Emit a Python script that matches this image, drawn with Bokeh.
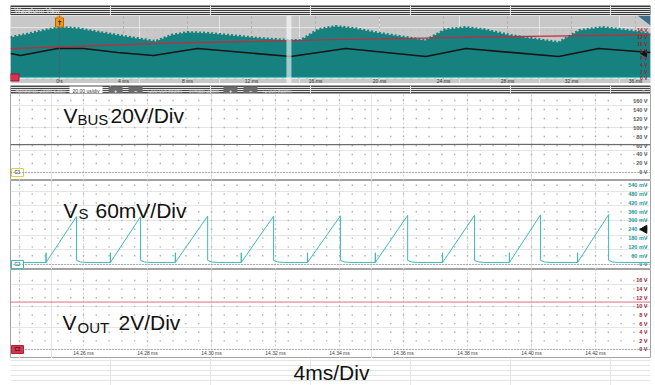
import numpy as np
from bokeh.plotting import figure
from bokeh.layouts import column
from bokeh.models import Range1d, Span, Grid, FixedTicker
from bokeh.core.properties import value
from bokeh.embed import file_html
from bokeh.resources import INLINE

FONT = "Liberation Sans"
W = 655

# ---------------- data ----------------
# Overview ("Waveform View"), time in ms, level in V of the overview scale
ov_ticks = [0, 4, 8, 12, 16, 20, 24, 28, 32, 36]
ov_tick_labels = ["0 s", "4 ms", "8 ms", "12 ms", "16 ms", "20 ms", "24 ms", "28 ms", "32 ms", "36 ms"]
ov_levels = [0, 2, 4, 6, 8, 10, 12, 14]
ov_level_labels = ["0 V", "2 V", "4 V", "6 V", "8 V", "10 V", "12 V", "14 V"]
ov_env_t = [-3.06, -1.81, -0.6, 0.19, 1.2, 2.56, 4.44, 6.0, 7.0, 8.0, 9.2, 10.69, 12.56, 14.44,
            15.06, 16.2, 17.25, 18.4, 20.06, 22.88, 24.1, 25.38, 26.6, 28.19, 31.19, 32.5,
            33.94, 35.2, 36.94]
ov_env_v = [11.96, 13.13, 14.4, 14.88, 14.5, 13.42, 11.96, 10.79, 12.6, 13.42, 13.2, 12.54,
            11.67, 11.08, 11.08, 14.3, 15.17, 14.6, 13.13, 11.08, 14.2, 14.88, 14.2, 12.54,
            10.5, 14.0, 14.88, 14.2, 13.13]
ov_base_v = 0.3
ov_red_t = [-3.06, 6.75, 16.9, 27.9, 36.94]
ov_red_v = [8.7, 10.3, 11.3, 12.2, 12.7]
ov_blk_t = [-3.06, -2.44, -0.125, 1.5, 3.63, 5.87, 8.63, 14.44, 17.9, 22.9, 25.4, 31.2, 33.7, 36.94]
ov_blk_v = [7.3, 6.7, 8.75, 8.75, 7.6, 6.7, 8.75, 6.4, 8.75, 6.4, 8.75, 6.4, 8.75, 7.6]
zoom_center_ms = 14.34

# Zoomed view, time in ms
t_major = [14.24, 14.26, 14.28, 14.30, 14.32, 14.34, 14.36, 14.38, 14.40, 14.42]
t_labels_t = [14.26, 14.28, 14.30, 14.32, 14.34, 14.36, 14.38, 14.40, 14.42]
t_labels = ["14.26 ms", "14.28 ms", "14.30 ms", "14.32 ms", "14.34 ms",
            "14.36 ms", "14.38 ms", "14.40 ms", "14.42 ms"]

bus_levels = [0, 20, 40, 60, 80, 100, 120, 140, 160]
bus_labels = ["0 V", "20 V", "40 V", "60 V", "80 V", "100 V", "120 V", "140 V", "160 V"]
bus_t = [14.2372, 14.29, 14.34, 14.39, 14.4372]
bus_v = [62.0, 62.5, 62.0, 62.5, 62.0]

vs_levels = [0, 60, 120, 180, 240, 300, 360, 420, 480, 540]
vs_labels = ["0 V", "60 mV", "120 mV", "180 mV", "240 mV", "300 mV", "360 mV", "420 mV", "480 mV", "540 mV"]
vs_spike_t = [14.2483, 14.2684, 14.2887, 14.3093, 14.3300, 14.3512, 14.3722, 14.3931, 14.4144]
vs_peak_t = [14.2578, 14.2778, 14.2988, 14.3194, 14.3403, 14.3613, 14.3822, 14.4028, 14.4241]
vs_peak_mv = [327, 325, 330, 330, 332, 335, 335, 338, 340]
vs_base_mv = 14
vs_spike_mv = 80
vs_tail_mv = 28
vs_trig_mv = 240

vout_levels = [0, 2, 4, 6, 8, 10, 12, 14, 16]
vout_labels = ["0 V", "2 V", "4 V", "6 V", "8 V", "10 V", "12 V", "14 V", "16 V"]
vout_t = [14.2372, 14.34, 14.4372]
vout_v = [11.0, 11.0, 11.0]

# ---------------- layout constants ----------------
XL, XR = 14.2371875, 14.4371875     # zoom window
DX = (XR - XL) / 640.0              # ms per pixel
OXL, OXR = -3.0625, 36.9375
OYB, OYT = -1.46, 18.375
ODX = (OXR - OXL) / 640.0
ODY = (OYT - OYB) / 68.0

TEAL = "#17817f"


def bare(h, xr, yr, top=0, bottom=0, bg="white"):
    p = figure(width=W, height=h, x_range=xr, y_range=yr,
               x_axis_location=None, y_axis_location=None,
               output_backend="svg", toolbar_location=None,
               min_border_left=10, min_border_right=5,
               min_border_top=top, min_border_bottom=bottom)
    p.background_fill_color = bg
    p.border_fill_color = "white"
    p.outline_line_color = None
    return p


def txt(p, x, y, s, size, color, align="left", baseline="middle", style="normal", xo=0, yo=0):
    p.text(x=x, y=y, text=s, text_font=value(FONT), text_font_size=size,
           text_color=color, text_align=align, text_baseline=baseline,
           text_font_style=style, x_offset=xo, y_offset=yo)


# ---- title bar ----
tb = bare(15, Range1d(0, 640), Range1d(0, 1), top=5, bg="#3a3a3a")
txt(tb, [4], [0.5], ["Waveform View"], "6.5px", "#e6e6e6")

# ---- overview ----
ov = bare(68, Range1d(OXL, OXR), Range1d(OYB, OYT), bg="#c8c8c8")
ov.add_layout(Grid(dimension=0, ticker=FixedTicker(ticks=ov_ticks), grid_line_color="#adadad",
                   grid_line_dash="2 3"))
ov.add_layout(Grid(dimension=1, ticker=FixedTicker(ticks=ov_levels), grid_line_color="#b4b4b4",
                   grid_line_dash="1 7"))
ov.varea(x=ov_env_t, y1=ov_base_v, y2=ov_env_v, fill_color=TEAL)
ov.line(ov_env_t, ov_env_v, line_color=TEAL, line_width=3, line_dash="2 2")
ov.line([OXL, OXR], [ov_base_v, ov_base_v], line_color="#45c8c8", line_width=1)
ov.line(ov_red_t, ov_red_v, line_color="#c8283c", line_width=1.2)
ov.line(ov_blk_t, ov_blk_v, line_color="#151515", line_width=1.6)
ov.add_layout(Span(location=zoom_center_ms, dimension="height", line_color="white",
                   line_alpha=0.6, line_width=5))
ov.add_layout(Span(location=0, dimension="height", line_color="#555555", line_alpha=0.7,
                   line_dash="2 2", line_width=1))
trig_y = OYT - 7 * ODY
ov.rect(x=[0], y=[trig_y], width=8, height=9, width_units="screen", height_units="screen",
        fill_color="#f39a1e", line_color="#b86200")
txt(ov, [0], [trig_y], ["T"], "6px", "#222222", align="center", style="bold")
ov.scatter([0], [OYT - 1.5 * ODY], marker="inverted_triangle", size=6, fill_color="#f39a1e",
           line_color=None)
ov.patch([OXR - 13 * ODX, OXR, OXR], [OYT, OYT, OYT - 10 * ODY], fill_color="#3e6d8e",
         line_color=None)
ov.scatter([OXR - 6 * ODX], [7.3], marker="triangle", angle=np.pi / 2, size=7, color="#111111")
txt(ov, [OXR] * len(ov_levels), ov_levels, ov_level_labels, "5px", "#9a2436",
    align="right", style="bold", xo=-3)
txt(ov, ov_ticks, [OYB + 2.5 * ODY] * len(ov_ticks), ov_tick_labels, "5px", "#333333",
    align="center")
ov.rect(x=[OXL + 4 * ODX], y=[ov_base_v], width=9, height=7, width_units="screen",
        height_units="screen", fill_color="#d8344c", line_color="#a01830")

# ---- control bar ----
cb = bare(10, Range1d(0, 640), Range1d(0, 1), bg="#4a4a4a")
cb.rect(x=[75.5], y=[0.5], width=33, height=0.8, fill_color="white", line_color=None)
cb.rect(x=[105, 125, 220, 240], y=[0.5] * 4, width=14, height=0.8, fill_color="#6c6c6c",
        line_color=None)
txt(cb, [5, 137, 178, 252], [0.5] * 4,
    ["Horizontal Zoom Scale", "(200.00x zoom)", "Vertical Zoom", "(1.00x zoom)"], "5px", "#cccccc")
txt(cb, [75.5], [0.5], ["20.00 us/div"], "5px", "#333333", align="center")
txt(cb, [105, 125, 220, 240], [0.5] * 4, ["+", "\u2212", "+", "\u2212"], "5.5px", "#eeeeee",
    align="center", style="bold")
txt(cb, [633], [0.5], ["\u00d7"], "6px", "#bbbbbb", align="center")

t_minor = np.arange(14.232, XR, 0.004)


def panel(h, yr, levels, labels, lab_color):
    p = bare(h, Range1d(XL, XR), Range1d(*yr))
    p.outline_line_color = "#a3a3a3"
    p.outline_line_width = 1
    p.add_layout(Grid(dimension=0, ticker=FixedTicker(ticks=t_major), grid_line_color="#d2d2d2",
                      grid_line_dash="2 2"))
    mx, my = np.meshgrid(t_minor, levels[1:])
    p.scatter(mx.ravel(), my.ravel(), marker="square", size=1.4, fill_color="#b0b0b0",
              line_color=None)
    p.add_layout(Span(location=0, dimension="width", line_color="#7a7a7a", line_dash="1 2",
                      line_width=1))
    txt(p, [XR] * len(levels), levels, labels, "5.5px", lab_color, align="right", style="bold", xo=-3)
    return p


def tag(p, y, fill, line, label, tcolor):
    p.rect(x=[XL + 7 * DX], y=[y], width=12, height=8, width_units="screen", height_units="screen",
           fill_color=fill, line_color=line, line_width=1)
    txt(p, [XL + 7 * DX], [y], [label], "4.5px", tcolor, align="center", style="bold")


def big_label(p, x, y_main, y_sub, main, sub, rest, x_sub, x_rest):
    txt(p, [x], [y_main], [main], "21px", "#111111", baseline="alphabetic")
    txt(p, [x_sub], [y_sub], [sub], "15px", "#111111", baseline="alphabetic")
    txt(p, [x_rest], [y_main], [rest], "21px", "#111111", baseline="alphabetic")


def px(xpix):
    return 14.24 + (xpix - 19) * DX


# ---- VBUS ----
bus = panel(87, (-17.78, 175.56), bus_levels, bus_labels, "#5a5a5a")
bus.line(bus_t, bus_v, line_color="#6c6c6c", line_width=1.2)
tag(bus, 0, "white", "#e2cf45", "C1", "#555555")
big_label(bus, px(63), (172 - 114.5) * 2.2222, (172 - 119) * 2.2222, "V", "BUS", "20V/Div",
          px(77), px(110))

# ---- VS ----
vs = panel(89, (-34.1, 572.7), vs_levels, vs_labels, "#2a9a9a")
xs, ys = [XL], [vs_base_mv]
for s, pk, pv in zip(vs_spike_t, vs_peak_t, vs_peak_mv):
    xs += [s, s, s, pk, pk, pk + 0.0013, pk + 0.0030]
    ys += [vs_base_mv, vs_spike_mv, vs_base_mv, pv, vs_tail_mv, vs_base_mv + 3, vs_base_mv]
xs.append(XR)
ys.append(vs_base_mv)
vs.line(xs, ys, line_color="#3dbaba", line_width=1)
vs.scatter([XR - 6 * DX], [vs_trig_mv], marker="triangle", angle=np.pi / 2, size=8, color="#111111")
tag(vs, 0, "white", "#3cb8b8", "C2", "#2a8a8a")
big_label(vs, px(63), (264 - 210) * 6.818, (264 - 213.5) * 6.818, "V", "S", "60mV/Div",
          px(78), px(95))

# ---- VOUT ----
vout = panel(89, (-2.087, 18.55), vout_levels, vout_labels, "#9a2436")
vout.line(vout_t, vout_v, line_color="#e0707e", line_width=1)
tag(vout, 0, "#d8344c", "#b02035", "C3", "#4a0010")
txt(vout, t_labels_t, [-0.70] * len(t_labels_t), t_labels, "5px", "#444444", align="center")
big_label(vout, px(62), (349 - 322) * 0.2319, (349 - 327) * 0.2319, "V", "OUT", "2V/Div",
          px(77), px(118))

# ---- bottom caption ----
bt = bare(27, Range1d(0, 27), Range1d(0, 27))
bt.x_range = Range1d(0, 640)
txt(bt, [321], [13.5], ["4ms/Div"], "21px", "#111111", align="center", baseline="middle")

layout = column(tb, ov, cb, bus, vs, vout, bt, spacing=0)
open("out.html", "w").write(file_html(layout, INLINE))
